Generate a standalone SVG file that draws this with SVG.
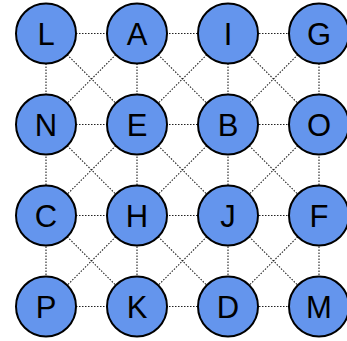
<svg xmlns="http://www.w3.org/2000/svg" width="347" height="341" viewBox="0 0 347 341">
<style>
.e{stroke:#222;stroke-width:1.1;stroke-dasharray:1.5 1.5;fill:none}
.n circle{fill:#6495ED;stroke:#000;stroke-width:2}
.n text{font-family:"Liberation Sans",Arial,sans-serif;font-size:31px;fill:#000;text-anchor:middle;dominant-baseline:central}
</style>
<rect width="347" height="341" fill="#fff"/>
<g id="connectors">
<path class="e" d="M46 33.5H319M46 124.5H319M46 215.5H319M46 306.5H319"/>
<path class="e" d="M46 33.5V306.5M137 33.5V306.5M228 33.5V306.5M319 33.5V306.5"/>
<path class="e" d="M46 33.5L137 124.5M137 33.5L46 124.5M137 33.5L228 124.5M228 33.5L137 124.5M228 33.5L319 124.5M319 33.5L228 124.5
M46 124.5L137 215.5M137 124.5L46 215.5M137 124.5L228 215.5M228 124.5L137 215.5M228 124.5L319 215.5M319 124.5L228 215.5
M46 215.5L137 306.5M137 215.5L46 306.5M137 215.5L228 306.5M228 215.5L137 306.5M228 215.5L319 306.5M319 215.5L228 306.5"/>
</g>
<g id="L" class="n"><circle cx="46" cy="33.5" r="30"/><text x="46" y="34.5">L</text></g>
<g id="A" class="n"><circle cx="137" cy="33.5" r="30"/><text x="137" y="34.5">A</text></g>
<g id="I" class="n"><circle cx="228" cy="33.5" r="30"/><text x="228" y="34.5">I</text></g>
<g id="G" class="n"><circle cx="319" cy="33.5" r="30"/><text x="319" y="34.5">G</text></g>
<g id="N" class="n"><circle cx="46" cy="124.5" r="30"/><text x="46" y="125.5">N</text></g>
<g id="E" class="n"><circle cx="137" cy="124.5" r="30"/><text x="137" y="125.5">E</text></g>
<g id="B" class="n"><circle cx="228" cy="124.5" r="30"/><text x="228" y="125.5">B</text></g>
<g id="O" class="n"><circle cx="319" cy="124.5" r="30"/><text x="319" y="125.5">O</text></g>
<g id="C" class="n"><circle cx="46" cy="215.5" r="30"/><text x="46" y="216.5">C</text></g>
<g id="H" class="n"><circle cx="137" cy="215.5" r="30"/><text x="137" y="216.5">H</text></g>
<g id="J" class="n"><circle cx="228" cy="215.5" r="30"/><text x="228" y="216.5">J</text></g>
<g id="F" class="n"><circle cx="319" cy="215.5" r="30"/><text x="319" y="216.5">F</text></g>
<g id="P" class="n"><circle cx="46" cy="306.5" r="30"/><text x="46" y="307.5">P</text></g>
<g id="K" class="n"><circle cx="137" cy="306.5" r="30"/><text x="137" y="307.5">K</text></g>
<g id="D" class="n"><circle cx="228" cy="306.5" r="30"/><text x="228" y="307.5">D</text></g>
<g id="M" class="n"><circle cx="319" cy="306.5" r="30"/><text x="319" y="307.5">M</text></g>
</svg>
